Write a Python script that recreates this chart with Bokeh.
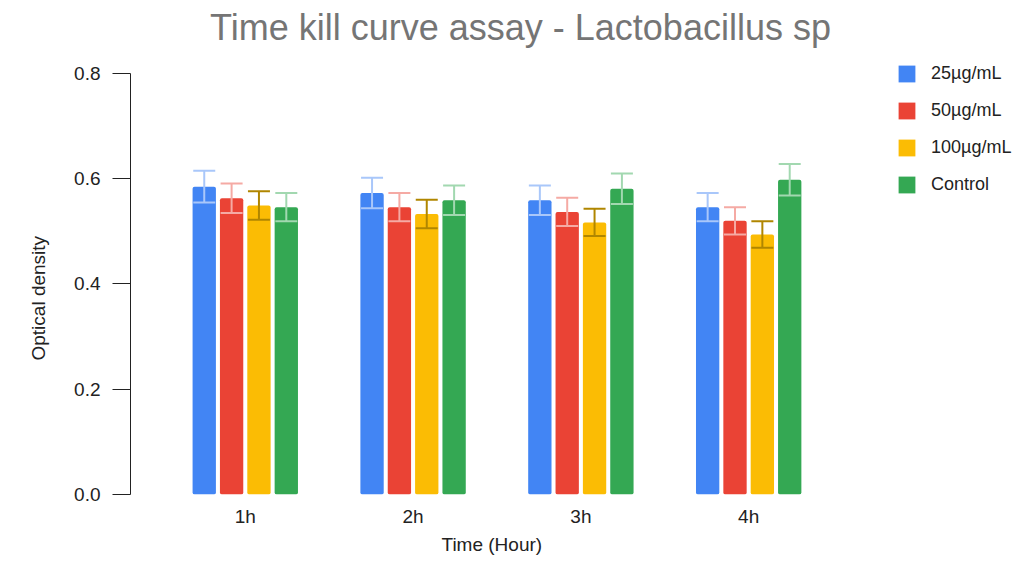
from bokeh.plotting import figure
from bokeh.models import (ColumnDataSource, Whisker, TeeHead, Range1d, FixedTicker,
                          Label, Title)
from bokeh.embed import file_html
from bokeh.resources import INLINE

# ---- data ----
hours = ["1h", "2h", "3h", "4h"]
series = ["25µg/mL", "50µg/mL", "100µg/mL", "Control"]
od_25 = [0.585, 0.573, 0.559, 0.546]
od_50 = [0.563, 0.546, 0.537, 0.520]
od_100 = [0.549, 0.533, 0.517, 0.494]
od_ctl = [0.546, 0.559, 0.581, 0.598]
err_25 = [0.030, 0.029, 0.028, 0.027]
err_50 = [0.028, 0.027, 0.027, 0.026]
err_100 = [0.027, 0.027, 0.026, 0.025]
err_ctl = [0.027, 0.028, 0.029, 0.030]
y_ticks = [0.0, 0.2, 0.4, 0.6, 0.8]

values = [od_25, od_50, od_100, od_ctl]
errors = [err_25, err_50, err_100, err_ctl]
bar_colors = ["#4285f4", "#ea4335", "#fbbc04", "#34a853"]
err_colors = ["#a9c7fa", "#f5aaa4", "#b08600", "#a2d8b0"]
offsets = [-0.2445, -0.0815, 0.0815, 0.2445]

FONT = "Liberation Sans"
TXT = "#222222"

# the frame covers x 130..1017 and y 0..494 (so title and legend sit inside it);
# y = 0.8 lands at pixel 73, x categories every ~168 px
p = figure(width=1017, height=559, output_backend="svg", toolbar_location=None,
           x_range=Range1d(0.316, 5.602), y_range=Range1d(0, 0.9387),
           min_border_left=130, min_border_right=0, min_border_top=0,
           min_border_bottom=65)
p.outline_line_color = None
p.grid.visible = False

for i in range(4):
    xs = [k + 1 + offsets[i] for k in range(len(hours))]
    src = ColumnDataSource(dict(x=xs, top=values[i],
                                upper=[v + e for v, e in zip(values[i], errors[i])],
                                lower=[v - e for v, e in zip(values[i], errors[i])]))
    p.vbar(x="x", top="top", bottom=0, width=0.139, source=src,
           fill_color=bar_colors[i], line_color=bar_colors[i], line_width=0,
           border_radius=2, legend_label=series[i])
    w = Whisker(base="x", upper="upper", lower="lower", source=src,
                line_color=err_colors[i], line_width=2,
                upper_head=TeeHead(size=22, line_color=err_colors[i], line_width=2),
                lower_head=TeeHead(size=22, line_color=err_colors[i], line_width=2),
                level="overlay")
    p.add_layout(w)

# chart title (inside the tall frame)
p.add_layout(Label(x=390, y=467, x_units="screen", y_units="screen",
                   text="Time kill curve assay - Lactobacillus sp",
                   text_align="center", text_baseline="alphabetic",
                   text_font=FONT, text_font_size="36px", text_color="#757575"))

# x axis
p.xaxis.ticker = FixedTicker(ticks=[1, 2, 3, 4])
p.xaxis.major_label_overrides = {k + 1: h for k, h in enumerate(hours)}
p.xaxis.axis_line_color = None
p.xaxis.major_tick_line_color = None
p.xaxis.major_tick_out = 0
p.xaxis.major_tick_in = 0
p.xaxis.minor_tick_line_color = None
p.xaxis.major_label_standoff = 11
p.xaxis.major_label_text_font = FONT
p.xaxis.major_label_text_font_size = "19px"
p.xaxis.major_label_text_color = TXT

xt = Title(text="Time (Hour)", align="left", offset=311, standoff=5,
           text_font=FONT, text_font_size="19px", text_font_style="normal",
           text_color=TXT)
p.add_layout(xt, "below")

# y axis
p.yaxis.ticker = FixedTicker(ticks=y_ticks)
p.yaxis.bounds = (0, 0.8)
p.yaxis.major_label_overrides = {t: f"{t:.1f}" for t in y_ticks}
p.yaxis.axis_line_color = TXT
p.yaxis.major_tick_line_color = TXT
p.yaxis.major_tick_out = 18
p.yaxis.major_tick_in = 0
p.yaxis.minor_tick_line_color = None
p.yaxis.major_label_standoff = 12
p.yaxis.major_label_text_font = FONT
p.yaxis.major_label_text_font_size = "19px"
p.yaxis.major_label_text_color = TXT

yt = Title(text="Optical density", align="left", offset=134, standoff=42,
           vertical_align="top",
           text_font=FONT, text_font_size="19px", text_font_style="normal",
           text_color=TXT)
p.add_layout(yt, "left")

lg = p.legend[0]
lg.location = (766, 299)
lg.padding = 0
lg.margin = 0
lg.border_line_color = None
lg.background_fill_alpha = 0
lg.glyph_width = 21
lg.glyph_height = 21
lg.label_standoff = 14
lg.spacing = 16
lg.label_text_font = FONT
lg.label_text_font_size = "18px"
lg.label_text_color = TXT

open("out.html", "w").write(file_html(p, INLINE))
